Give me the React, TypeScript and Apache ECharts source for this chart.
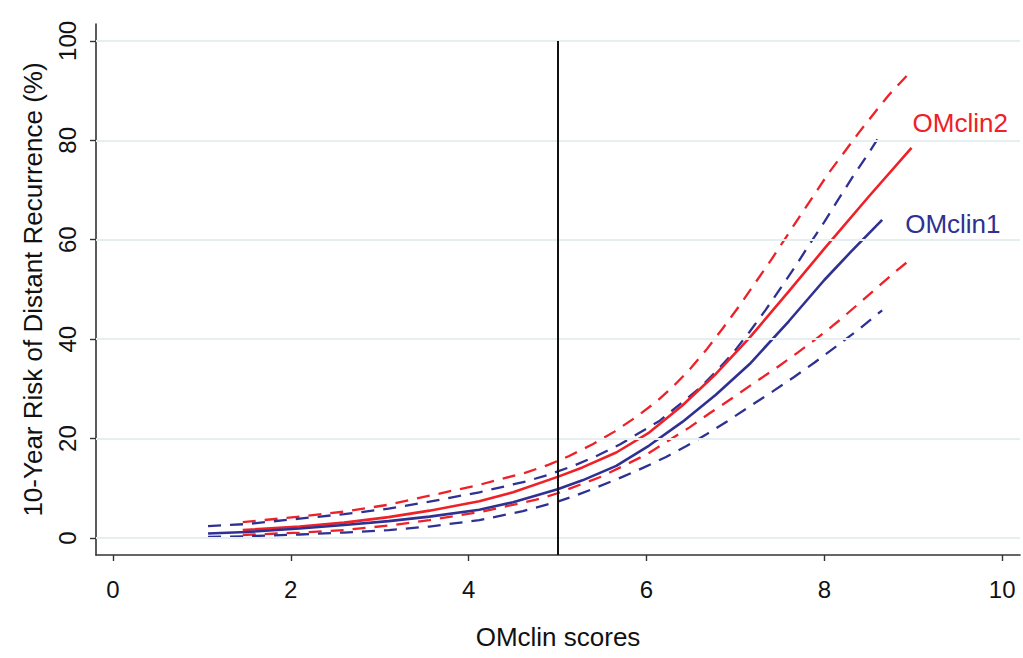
import React, { useEffect, useRef } from "react";
import * as echarts from "echarts";

// ---- data ----
const xTicks = [0, 2, 4, 6, 8, 10];
const yTicks = [0, 20, 40, 60, 80, 100];
const cutoffScore = 5;

// OMclin1 (blue)
const om1Fit: [number, number][] = [
  [1.07, 0.9], [1.5, 1.2], [2.1, 1.9], [2.6, 2.6], [3.1, 3.4], [3.56, 4.3], [4.12, 5.7], [4.5, 7.2],
  [5.0, 9.8], [5.28, 11.6], [5.66, 14.5], [6.03, 18.6], [6.4, 23.3], [6.78, 28.8], [7.16, 35.0],
  [7.6, 43.6], [8.0, 51.9], [8.3, 57.6], [8.65, 64.0],
];
const om1Upper: [number, number][] = [
  [1.07, 2.4], [1.5, 2.8], [2.1, 3.9], [2.6, 4.8], [3.1, 5.9], [3.56, 7.3], [4.12, 9.2], [4.65, 11.4],
  [4.91, 12.8], [5.19, 14.6], [5.45, 16.6], [5.7, 18.8], [6.15, 23.6], [6.6, 30.2], [6.8, 33.8],
  [6.99, 37.6], [7.16, 41.5], [7.34, 45.9], [7.51, 50.3], [7.68, 54.8], [7.83, 59.0], [8.0, 63.6],
  [8.15, 67.9], [8.32, 72.7], [8.49, 77.2], [8.64, 81.4],
];
const om1Lower: [number, number][] = [
  [1.07, 0.2], [1.5, 0.35], [2.1, 0.7], [2.6, 1.1], [3.1, 1.6], [3.56, 2.3], [4.12, 3.6], [4.61, 5.4],
  [5.0, 7.3], [5.21, 8.6], [5.43, 10.1], [5.73, 12.3], [5.96, 14.1], [6.22, 16.3], [6.45, 18.5],
  [6.67, 20.8], [6.91, 23.5], [7.12, 26.0], [7.42, 29.5], [7.66, 32.4], [7.89, 35.3], [8.13, 38.5],
  [8.39, 42.0], [8.65, 45.8],
];

// OMclin2 (red)
const om2Fit: [number, number][] = [
  [1.46, 1.6], [2.1, 2.3], [2.6, 3.1], [3.1, 4.2], [3.56, 5.5], [4.12, 7.4], [4.5, 9.2], [5.0, 12.3],
  [5.28, 14.2], [5.66, 17.2], [6.03, 21.2], [6.4, 26.6], [6.78, 33.0], [7.16, 40.3], [7.6, 49.6],
  [8.0, 58.2], [8.5, 68.7], [8.98, 78.5],
];
const om2Upper: [number, number][] = [
  [1.46, 3.2], [2.1, 4.3], [2.6, 5.3], [3.1, 6.7], [3.56, 8.5], [4.12, 10.7], [4.65, 13.2], [4.91, 14.8],
  [5.13, 16.5], [5.4, 18.9], [5.64, 21.4], [5.88, 24.3], [6.11, 27.4], [6.29, 30.3], [6.48, 33.8],
  [6.67, 37.8], [6.85, 42.0], [7.04, 46.6], [7.4, 55.9], [7.72, 64.6], [8.04, 73.2], [8.39, 81.6],
  [8.58, 85.9], [8.73, 89.2], [8.97, 93.8],
];
const om2Lower: [number, number][] = [
  [1.46, 0.6], [2.1, 1.1], [2.6, 1.6], [3.1, 2.5], [3.56, 3.6], [4.12, 5.2], [4.76, 7.7], [5.0, 9.0],
  [5.5, 12.4], [6.0, 16.8], [6.48, 22.2], [6.71, 25.1], [6.97, 28.2], [7.21, 31.2], [7.46, 34.2],
  [7.7, 37.3], [7.94, 40.5], [8.17, 43.8], [8.39, 47.2], [8.62, 50.8], [8.82, 53.9], [8.98, 56.2],
];

const BLUE = "#2e3192";
const RED = "#ee2128";
const FONT = "'Liberation Sans', Arial, Helvetica, sans-serif";

export default function App() {
  const ref = useRef<HTMLDivElement>(null);
  useEffect(() => {
    if (!ref.current) return;
    const chart = echarts.init(ref.current, null, { renderer: "svg" });

    const dashed = (name: string, data: [number, number][], color: string) => ({
      name,
      type: "line",
      data,
      showSymbol: false,
      smooth: false,
      z: 3,
      lineStyle: { color, width: 2.3, type: [13, 9] },
    });

    chart.setOption({
      animation: false,
      backgroundColor: "#ffffff",
      grid: { left: 96, right: 3, top: 24, bottom: 103, containLabel: false },
      xAxis: {
        type: "value",
        min: -0.19,
        max: 10.2,
        name: "OMclin scores",
        nameLocation: "middle",
        nameGap: 69,
        nameTextStyle: { fontSize: 26, color: "#111", fontFamily: FONT },
        axisLine: { show: true, onZero: false, lineStyle: { color: "#333", width: 1.6 } },
        axisTick: { show: true, customValues: xTicks, length: 6, lineStyle: { color: "#333", width: 1.4 } },
        axisLabel: { customValues: xTicks, fontSize: 24, color: "#111", margin: 22, fontFamily: FONT },
        splitLine: { show: false },
      },
      yAxis: {
        type: "value",
        min: -3.42,
        max: 103.4,
        name: "10-Year Risk of Distant Recurrence (%)",
        nameLocation: "middle",
        nameGap: 50,
        nameRotate: 90,
        nameTextStyle: { fontSize: 26, color: "#111", fontFamily: FONT },
        axisLine: { show: true, onZero: false, lineStyle: { color: "#333", width: 1.6 } },
        axisTick: { show: true, customValues: yTicks, length: 6, lineStyle: { color: "#333", width: 1.4 } },
        axisLabel: { customValues: yTicks, fontSize: 24, color: "#111", margin: 17, rotate: 90, fontFamily: FONT },
        splitLine: { show: false },
      },
      series: [
        {
          name: "grid",
          type: "line",
          data: [],
          silent: true,
          z: 1,
          markLine: {
            silent: true,
            symbol: "none",
            label: { show: false },
            lineStyle: { color: "#e6eff0", width: 2, type: "solid" },
            data: yTicks.map((v) => ({ yAxis: v })),
          },
        },
        {
          name: "cutoff",
          type: "line",
          data: [],
          silent: true,
          z: 2,
          markLine: {
            silent: true,
            symbol: "none",
            label: { show: false },
            lineStyle: { color: "#111", width: 2, type: "solid" },
            data: [[{ coord: [cutoffScore, 100] }, { coord: [cutoffScore, -3.42] }]],
          },
        },
        dashed("OMclin2 upper", om2Upper, RED),
        dashed("OMclin2 lower", om2Lower, RED),
        dashed("OMclin1 upper", om1Upper, BLUE),
        dashed("OMclin1 lower", om1Lower, BLUE),
        {
          name: "OMclin2",
          type: "line",
          data: om2Fit,
          showSymbol: false,
          smooth: false,
          z: 4,
          lineStyle: { color: RED, width: 2.6 },
          endLabel: {
            show: true,
            formatter: "OMclin2",
            color: RED,
            fontSize: 26,
            fontFamily: FONT,
            offset: [-7, -25],
          },
        },
        {
          name: "OMclin1",
          type: "line",
          data: om1Fit,
          showSymbol: false,
          smooth: false,
          z: 4,
          lineStyle: { color: BLUE, width: 2.6 },
          endLabel: {
            show: true,
            formatter: "OMclin1",
            color: BLUE,
            fontSize: 26,
            fontFamily: FONT,
            offset: [15, 4],
          },
        },
      ],
    });
    return () => chart.dispose();
  }, []);

  return (
    <div
      ref={ref}
      style={{ position: "fixed", left: 0, top: 0, width: 1023, height: 658, background: "#fff" }}
    />
  );
}
